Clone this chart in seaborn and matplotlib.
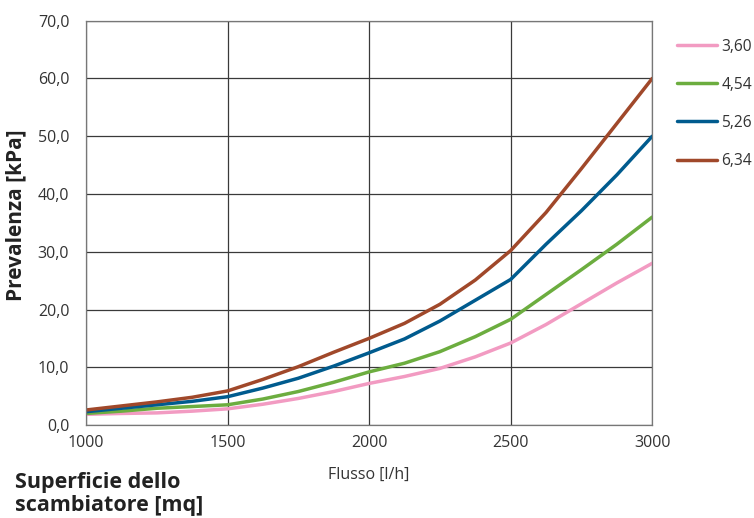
import matplotlib
matplotlib.use("Agg")
import matplotlib.pyplot as plt
import seaborn as sns
import pandas as pd
from matplotlib.ticker import FuncFormatter

flow = [1000, 1125, 1250, 1375, 1500, 1625, 1750, 1875, 2000,
        2125, 2250, 2375, 2500, 2625, 2750, 2875, 3000]
s360 = [1.85, 2.0, 2.1, 2.4, 2.8, 3.6, 4.6, 5.8, 7.2, 8.4, 9.8, 11.8, 14.2, 17.4, 21.0, 24.6, 28.0]
s454 = [2.0, 2.4, 2.9, 3.2, 3.5, 4.5, 5.8, 7.4, 9.2, 10.7, 12.7, 15.3, 18.3, 22.6, 26.9, 31.3, 36.0]
s526 = [2.3, 2.9, 3.5, 4.1, 4.9, 6.4, 8.1, 10.2, 12.5, 14.9, 18.0, 21.6, 25.2, 31.3, 37.1, 43.3, 50.0]
s634 = [2.6, 3.3, 4.0, 4.8, 5.9, 7.9, 10.1, 12.6, 15.0, 17.6, 20.9, 25.1, 30.2, 36.8, 44.4, 52.2, 60.0]
series_labels = ["3,60", "4,54", "5,26", "6,34"]
colors = ["#F29BC2", "#6CAD3F", "#005B8E", "#A0482A"]

rows = []
for lab, vals in zip(series_labels, [s360, s454, s526, s634]):
    for f, v in zip(flow, vals):
        rows.append({"Flusso": f, "Prevalenza": v, "Superficie": lab})
df = pd.DataFrame(rows)

sns.set_theme(style="white")
plt.rcParams["font.family"] = ["Open Sans", "DejaVu Sans"]

fig = plt.figure(figsize=(7.54, 5.18), dpi=100)
ax = fig.add_axes([0.114, 0.1795, 0.751, 0.7805])

sns.lineplot(data=df, x="Flusso", y="Prevalenza", hue="Superficie",
             palette=dict(zip(series_labels, colors)), linewidth=2.5, ax=ax)

ax.set_xlim(1000, 3000)
ax.set_ylim(0, 70)
ax.set_xticks([1000, 1500, 2000, 2500, 3000])
ax.set_yticks(range(0, 71, 10))
ax.yaxis.set_major_formatter(FuncFormatter(lambda v, p: f"{v:.1f}".replace(".", ",")))
ax.grid(True, color="#3a3a3a", linewidth=0.9)
ax.set_axisbelow(True)
for s in ax.spines.values():
    s.set_color("#777777")
    s.set_linewidth(0.9)
ax.tick_params(axis="both", length=0, labelsize=11.5, colors="#333333")
ax.tick_params(axis="y", pad=12)
ax.tick_params(axis="x", pad=7)

ax.set_xlabel("")
ax.set_ylabel("Prevalenza [kPa]", fontsize=15, fontweight="bold", color="#222222")
ax.yaxis.set_label_coords(-0.106, 0.52)
fig.text(0.4895, 0.083, "Flusso [l/h]", ha="center", va="center", fontsize=11.5, color="#333333")
fig.text(0.02, 0.046, "Superficie dello\nscambiatore [mq]", ha="left", va="center",
         fontsize=15.5, fontweight="bold", color="#222222", linespacing=1.15)

handles, labels = ax.get_legend_handles_labels()
ax.legend(handles, labels, loc="upper left", bbox_to_anchor=(1.019, 0.99), frameon=False,
          fontsize=11.2, labelcolor="#333333", handlelength=2.6, handletextpad=0.25,
          labelspacing=1.42, title=None)

fig.savefig("out.png", dpi=100)
